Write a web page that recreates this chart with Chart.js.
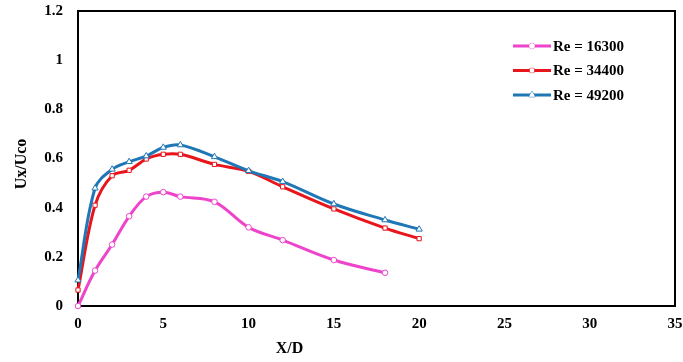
<!DOCTYPE html>
<html>
<head>
<meta charset="utf-8">
<title>Ux/Uco vs X/D</title>
<script src="https://cdn.jsdelivr.net/npm/chart.js@4.4.1/dist/chart.umd.min.js"></script>
<style>
  html, body { margin: 0; padding: 0; background: #fff; }
  #wrap { width: 683px; height: 362px; }
</style>
</head>
<body>
<div id="wrap"><canvas id="velChart" width="683" height="362"></canvas></div>
<script>
// data
const xRe16300 = [0, 1, 2, 3, 4, 5, 6, 8, 10, 12, 15, 18];
const yRe16300 = [0, 0.144, 0.25, 0.365, 0.445, 0.463, 0.445, 0.424, 0.32, 0.268, 0.187, 0.135];

const xRe34400 = [0, 1, 2, 3, 4, 5, 6, 8, 10, 12, 15, 18, 20];
const yRe34400 = [0.065, 0.41, 0.53, 0.552, 0.598, 0.617, 0.617, 0.576, 0.548, 0.485, 0.395, 0.317, 0.274];

const xRe49200 = [0, 1, 2, 3, 4, 5, 6, 8, 10, 12, 15, 18, 20];
const yRe49200 = [0.105, 0.479, 0.556, 0.587, 0.61, 0.645, 0.655, 0.607, 0.55, 0.506, 0.415, 0.35, 0.312];

const seriesLabels = ["Re = 16300", "Re = 34400", "Re = 49200"];
const xTicks = [0, 5, 10, 15, 20, 25, 30, 35];
const yTicks = [0, 0.2, 0.4, 0.6, 0.8, 1, 1.2];

(function(){
  const FONT = "'Liberation Serif', 'Times New Roman', serif";

  function toPoints(xs, ys) {
    return xs.map((x, i) => ({ x: x, y: ys[i] }));
  }

  // frame goes under the lines so the x=0 markers sit on top of the axis
  const framePlugin = {
    id: 'frame',
    beforeDatasetsDraw(chart) {
      const { ctx, chartArea: a } = chart;
      ctx.save();
      ctx.strokeStyle = '#000';
      ctx.lineWidth = 2;
      ctx.strokeRect(a.left, a.top, a.right - a.left, a.bottom - a.top);
      ctx.restore();
    },
    afterDatasetsDraw(chart) {
      const { ctx, chartArea: a } = chart;
      ctx.save();

      // x title sits left of centre in the original
      ctx.fillStyle = '#000';
      ctx.font = "bold 16px " + FONT;
      ctx.textAlign = 'center';
      ctx.textBaseline = 'middle';
      ctx.fillText('X/D', chart.scales.x.getPixelForValue(12.4), 349);

      // y title, rotated
      ctx.save();
      ctx.translate(22, 164);
      ctx.rotate(-Math.PI / 2);
      ctx.fillText('Ux/Uco', 0, 0);
      ctx.restore();

      // legend
      const lx = a.right - 162, ly = a.top + 35, gap = 24.5;
      chart.data.datasets.forEach((ds, i) => {
        const y = ly + i * gap;
        ctx.strokeStyle = ds.borderColor;
        ctx.lineWidth = 3;
        ctx.beginPath();
        ctx.moveTo(lx, y);
        ctx.lineTo(lx + 38, y);
        ctx.stroke();
        ctx.lineWidth = 1;
        ctx.fillStyle = '#fff';
        Chart.helpers.drawPoint(ctx, {
          pointStyle: ds.pointStyle, radius: ds.pointRadius, borderWidth: 1
        }, lx + 19, y);
        ctx.fill();
        ctx.fillStyle = '#000';
        ctx.font = "bold 15px " + FONT;
        ctx.textAlign = 'left';
        ctx.fillText(ds.label, lx + 40, y + 1);
      });
      ctx.restore();
    }
  };

  document.addEventListener('DOMContentLoaded', () => {
    const canvas = document.getElementById('velChart');
    const ctx = canvas.getContext('2d');

    const colors = ['#EE44CC', '#E8151C', '#1F77B6'];
    const styles = ['circle', 'rect', 'triangle'];
    const radii = [2.8, 3, 3.6];
    const xs = [xRe16300, xRe34400, xRe49200];
    const ys = [yRe16300, yRe34400, yRe49200];

    const datasets = seriesLabels.map((label, i) => ({
      label: label,
      data: toPoints(xs[i], ys[i]),
      borderColor: colors[i],
      backgroundColor: '#fff',
      pointBackgroundColor: '#fff',
      pointBorderColor: colors[i],
      pointBorderWidth: 1,
      pointStyle: styles[i],
      pointRadius: radii[i],
      borderWidth: 3,
      tension: 0.35,
      clip: false,
      order: 2 - i
    }));

    const tickFont = { family: FONT, size: 15, weight: 'bold' };

    new Chart(ctx, {
      type: 'line',
      data: { datasets: datasets },
      plugins: [framePlugin],
      options: {
        responsive: false,
        animation: false,
        layout: { padding: { top: 11, right: 8, left: 0, bottom: 0 } },
        plugins: { legend: { display: false }, tooltip: { enabled: false } },
        scales: {
          x: {
            type: 'linear',
            min: 0, max: 35,
            afterBuildTicks: s => { s.ticks = xTicks.map(v => ({ value: v })); },
            afterFit: s => { s.height = 56; s.paddingLeft = 0; s.paddingRight = 0; },
            grid: { display: false, drawTicks: false },
            border: { display: false },
            ticks: { padding: 9, color: '#000', font: tickFont }
          },
          y: {
            min: 0, max: 1.2,
            afterBuildTicks: s => { s.ticks = yTicks.map(v => ({ value: v })); },
            afterFit: s => { s.width = 78; s.paddingTop = 0; s.paddingBottom = 0; },
            grid: { display: false, drawTicks: false },
            border: { display: false },
            ticks: {
              padding: 15, color: '#000', font: tickFont,
              callback: v => String(+v.toFixed(1))
            }
          }
        }
      }
    });
  });
})();
</script>
</body>
</html>
